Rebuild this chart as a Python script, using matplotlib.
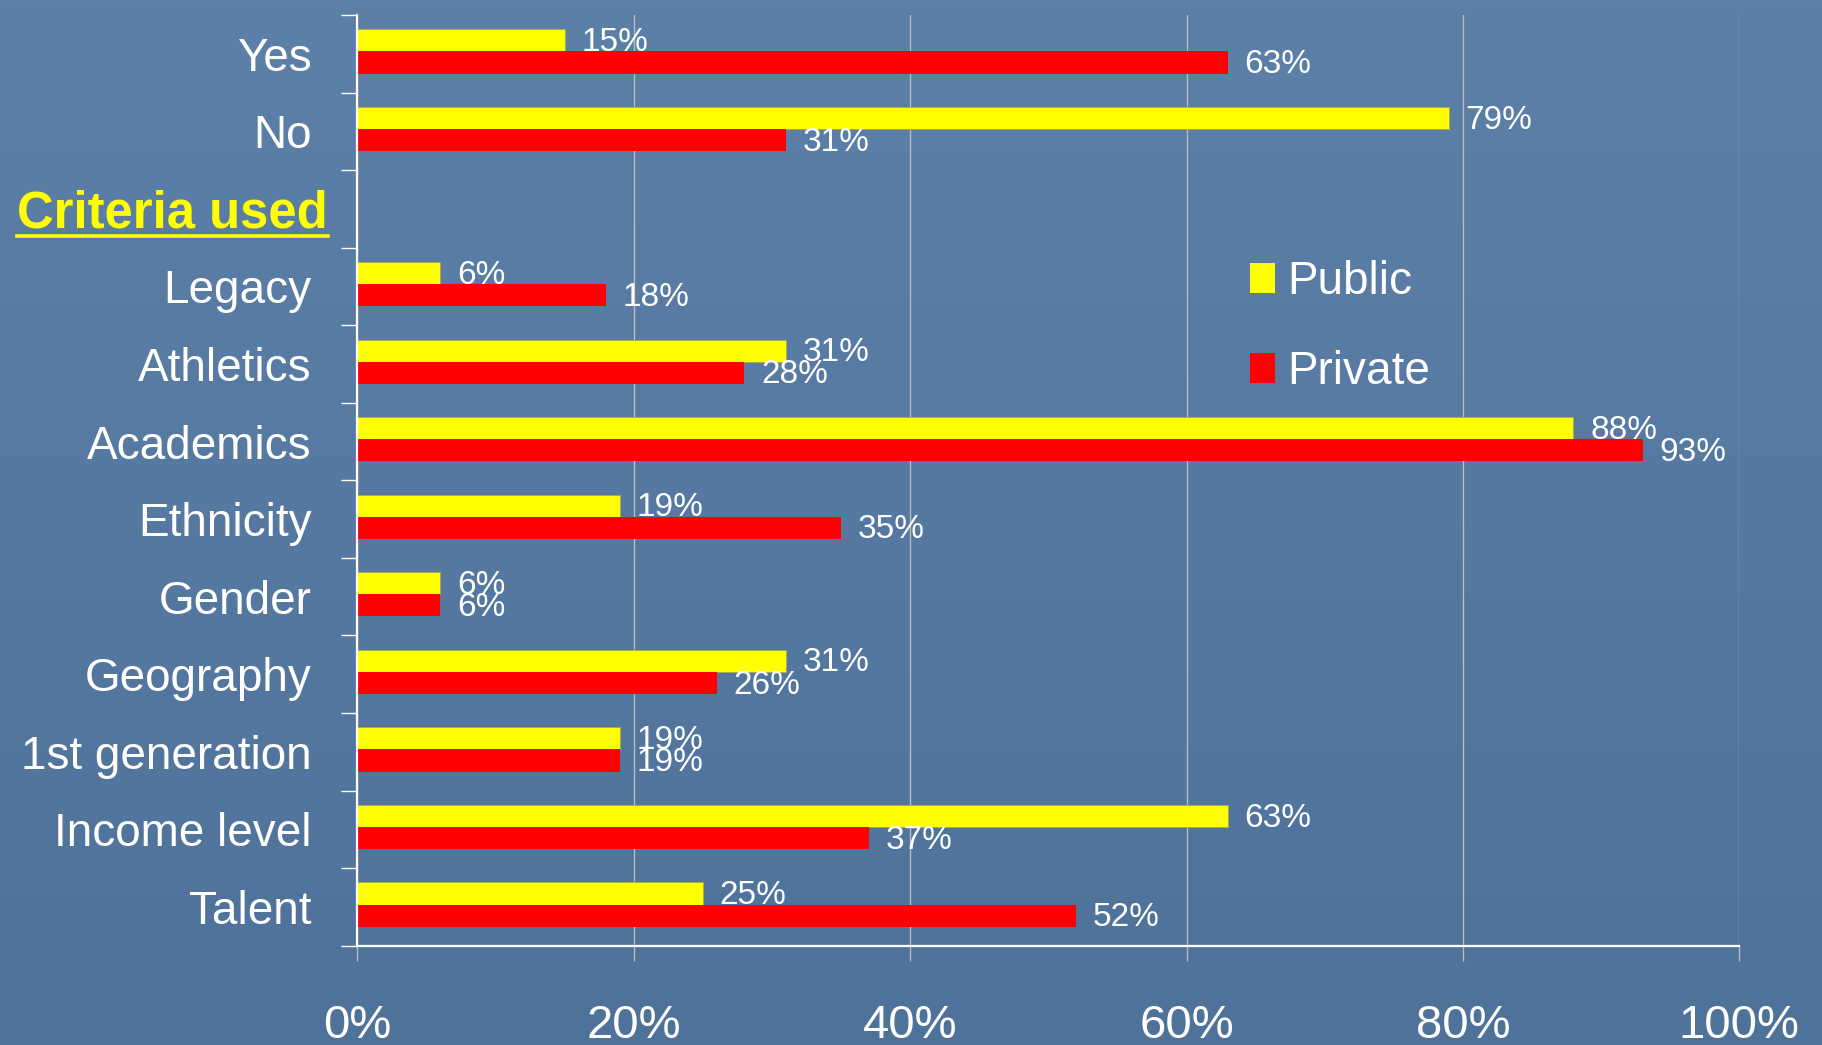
import numpy as np
import matplotlib
matplotlib.use("Agg")
import matplotlib.pyplot as plt
import matplotlib.transforms as mtransforms
from matplotlib.patches import Patch
from matplotlib.lines import Line2D

# ---- data -------------------------------------------------------------
categories = ["Yes", "No", "Criteria used", "Legacy", "Athletics", "Academics",
              "Ethnicity", "Gender", "Geography", "1st generation",
              "Income level", "Talent"]
public = [15, 79, None, 6, 31, 88, 19, 6, 31, 19, 63, 25]
private = [63, 31, None, 18, 28, 93, 35, 6, 26, 19, 37, 52]
series_names = ["Public", "Private"]
x_ticks = [0, 20, 40, 60, 80, 100]
x_tick_labels = ["0%", "20%", "40%", "60%", "80%", "100%"]
header_category = "Criteria used"

# ---- style -------------------------------------------------------------
plt.rcParams["font.family"] = ["Liberation Sans", "DejaVu Sans"]
W, H, DPI = 1822, 1045, 100
YELLOW, RED = "#ffff00", "#ff0000"
GRID = "#bdbdbd"

fig = plt.figure(figsize=(W / DPI, H / DPI), dpi=DPI)

# blue slide background with a soft vertical gradient
bg = fig.add_axes([0, 0, 1, 1], zorder=-10)
top_c = np.array([0x5c, 0x80, 0xa8]) / 255
bot_c = np.array([0x4f, 0x72, 0x9a]) / 255
t = np.linspace(0, 1, 256)[:, None, None]
grad = top_c * (1 - t) + bot_c * t
grad = np.repeat(grad, 4, axis=1)
bg.imshow(grad, aspect="auto", extent=[0, 1, 0, 1])
bg.set_axis_off()

ax = fig.add_axes([357.3 / W, 99.3 / H, (1739.3 - 357.3) / W, (945.7 - 15) / H])
ax.set_facecolor("none")

n = len(categories)
y = np.arange(n)
h = 0.285
group_shift = -0.03

pub_vals = np.array([np.nan if v is None else v for v in public], dtype=float)
pri_vals = np.array([np.nan if v is None else v for v in private], dtype=float)
mask = ~np.isnan(pub_vals)

bars_pub = ax.barh(y[mask] + group_shift - h / 2, pub_vals[mask], height=h,
                   color=YELLOW, edgecolor="#a9a94a", linewidth=0.6, zorder=3)
bars_pri = ax.barh(y[mask] + group_shift + h / 2, pri_vals[mask], height=h,
                   color=RED, linewidth=0, zorder=3)

# value labels to the right of each bar
for bars, vals in ((bars_pub, pub_vals[mask]), (bars_pri, pri_vals[mask])):
    for b, v in zip(bars, vals):
        ax.annotate(f"{v:.0f}%", xy=(b.get_width(), b.get_y() + b.get_height() / 2),
                    xytext=(12, -1.5), textcoords="offset points",
                    ha="left", va="center", color="white", fontsize=24, zorder=4)

ax.set_xlim(0, 100)
ax.set_ylim(n - 0.5, -0.5)

# x axis
ax.set_xticks(x_ticks)
ax.set_xticklabels(x_tick_labels)
ax.tick_params(axis="x", direction="out", length=11, width=0.95, color=GRID,
               labelsize=34, labelcolor="white", pad=31)
ax.xaxis.grid(True, color=GRID, linewidth=0.95, zorder=1)
ax.set_axisbelow(True)

# y axis: labels at category centres, tick marks at category boundaries
ax.set_yticks(y)
ax.set_yticklabels(["" if c == header_category else c for c in categories])
ax.set_yticks(np.arange(n + 1) - 0.5, minor=True)
ax.tick_params(axis="y", which="major", length=0, labelsize=33,
               labelcolor="white", pad=33)
ax.tick_params(axis="y", which="minor", direction="out", length=11.5,
               width=1.0, color="white")

for s in ("top", "right"):
    ax.spines[s].set_visible(False)
for s in ("left", "bottom"):
    ax.spines[s].set_color("white")
    ax.spines[s].set_linewidth(1.6)
    ax.spines[s].set_zorder(5)

# section header inside the category column
hdr_idx = categories.index(header_category)
trans = mtransforms.blended_transform_factory(fig.transFigure, ax.transData)
hdr = ax.text(17 / W, hdr_idx + 0.07, header_category, transform=trans, ha="left",
              va="center", color=YELLOW, fontsize=36.5, fontweight="bold",
              clip_on=False)
fig.canvas.draw()
bb = hdr.get_window_extent(fig.canvas.get_renderer())
uy = bb.y0 + 3
fig.add_artist(Line2D([bb.x0 / W, bb.x1 / W], [uy / H, uy / H],
                      transform=fig.transFigure, color=YELLOW, linewidth=2.6))

# legend
handles = [Patch(facecolor=YELLOW, edgecolor="none"),
           Patch(facecolor=RED, edgecolor="none")]
ax.legend(handles, series_names, loc="upper left",
          bbox_to_anchor=(1250 / W, 1 - 260 / H), bbox_transform=fig.transFigure,
          frameon=False, fontsize=33, labelcolor="white",
          handlelength=0.55, handleheight=0.62, handletextpad=0.27,
          labelspacing=1.0, borderpad=0, borderaxespad=0)

fig.savefig("out.png", dpi=DPI)
